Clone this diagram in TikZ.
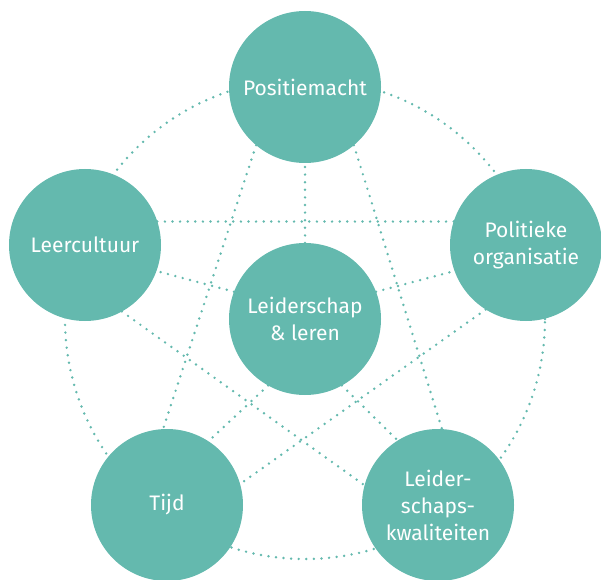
\documentclass[tikz,border=0pt]{standalone}
\usepackage{fontspec}
\setmainfont{Fira Sans}
\usepackage{tikz}
\definecolor{sea}{HTML}{64B9AE}
\definecolor{paper}{HTML}{FFFFFF}
\tikzset{
  topic/.style={circle, fill=sea, draw=none, minimum size=152pt, inner sep=0pt, outer sep=0pt,
    text=paper, align=center, font=\fontsize{21}{27}\selectfont},
  dotline/.style={draw=sea, line width=2.7pt, line cap=round, dash pattern=on 0pt off 7.6pt}
}

\begin{document}
\begin{tikzpicture}[x=1pt,y=1pt]
  \useasboundingbox (0,0) rectangle (601,579);
  \coordinate (mid) at (305,260);

  % outer ring behind the five topics
  \draw[dotline] (mid) circle (240pt);

  \node[topic] (lead) at (mid) {Leiderschap\\\& leren};
  \node[topic] (power) at (305,492) {Positiemacht};
  \node[topic] (culture) at (85,334) {Leercultuur};
  \node[topic] (politics) at (526,334) {Politieke\\organisatie};
  \node[topic] (time) at (167,74) {Tijd};
  \node[topic] (quality) at (438,74) {Leider-\\schaps-\\kwaliteiten};

  % spokes from the middle
  \draw[dotline] (lead.90) -- (power.270);
  \draw[dotline] (lead.159) -- (culture.340);
  \draw[dotline] (lead.21) -- (politics.200);
  \draw[dotline] (lead.241) -- (time.57);
  \draw[dotline] (lead.299) -- (quality.122);

  % star
  \draw[dotline] (culture.18) -- (politics.162);
  \draw[dotline] (power.230) -- (time.93);
  \draw[dotline] (power.310) -- (quality.87);
  \draw[dotline] (culture.299) -- (quality.165);
  \draw[dotline] (politics.238) -- (time.16);
\end{tikzpicture}
\end{document}
